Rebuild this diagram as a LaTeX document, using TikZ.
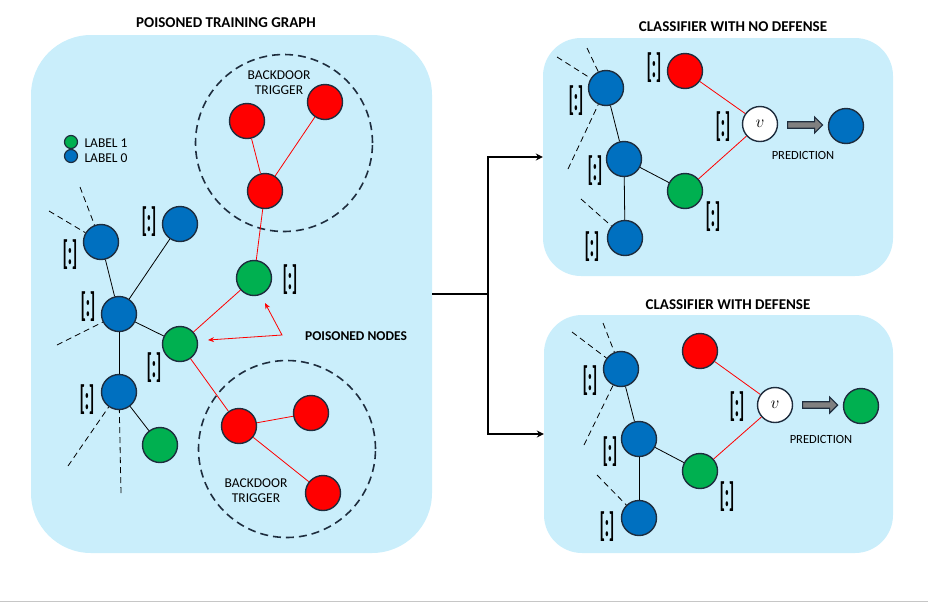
\documentclass[tikz,border=0pt]{standalone}
\usepackage{amsmath}
\usepackage{fontspec}
\setmainfont{Carlito}
\usepackage{tikz}
\usetikzlibrary{arrows.meta,positioning,shapes.arrows}
\definecolor{sky}{RGB}{202, 238, 251}
\definecolor{nodeblue}{RGB}{0, 112, 192}
\definecolor{nodegreen}{RGB}{0, 176, 80}
\definecolor{nodered}{RGB}{255, 0, 0}
\definecolor{rim}{RGB}{30, 45, 62}
\tikzstyle{panel} = [
    rectangle,
    fill=sky,
    draw=none,
    inner sep=0pt
]
\tikzstyle{vertex} = [
    circle,
    minimum size=35pt,
    inner sep=0pt,
    draw=rim,
    line width=1.4pt
]
\tikzstyle{bluev} = [vertex, fill=nodeblue]
\tikzstyle{greenv} = [vertex, fill=nodegreen]
\tikzstyle{redv} = [vertex, fill=nodered]
\tikzstyle{target} = [vertex, fill=white, font=\fontsize{18}{18}\selectfont]
\tikzstyle{dot} = [circle, minimum size=13pt, inner sep=0pt, draw=rim, line width=1.2pt]
\tikzstyle{edge} = [line width=0.8pt, draw=black]
\tikzstyle{redge} = [line width=0.8pt, draw=nodered]
\tikzstyle{stub} = [line width=0.8pt, dashed, dash pattern=on 6pt off 4pt]
\tikzstyle{trigger} = [
    circle,
    minimum size=177pt,
    draw=rim,
    line width=1.6pt,
    dash pattern=on 8pt off 5pt
]
\tikzstyle{title} = [font=\bfseries\fontsize{15}{17}\selectfont]
\tikzstyle{small} = [font=\fontsize{13.5}{15}\selectfont, align=center]
\tikzstyle{feat} = [inner sep=0pt]
\tikzstyle{link} = [line width=2.2pt, draw=black]
\tikzstyle{predarrow} = [
    single arrow,
    fill=gray,
    draw=rim,
    line width=1.2pt,
    minimum height=35pt,
    minimum width=16pt,
    inner sep=2.5pt,
    single arrow head extend=4.5pt
]
\newcommand{\featvec}{\scalebox{1}[2]{\fontsize{17}{17}\selectfont\bfseries[\kern-0.5pt:\kern-0.5pt]}}

\begin{document}
\begin{tikzpicture}[x=1pt, y=-1pt]
    \useasboundingbox (0,0) rectangle (928,603);

    % Panels
    \node[panel, rounded corners=60pt, minimum width=401pt, minimum height=518pt] (train) at (231.5,294) {};
    \node[panel, rounded corners=38pt, minimum width=350pt, minimum height=238pt] (nodef) at (718,157) {};
    \node[panel, rounded corners=38pt, minimum width=349pt, minimum height=238pt] (def) at (718.5,434) {};
    \node[title] at (226,23) {POISONED TRAINING GRAPH};
    \node[title] at (733,27) {CLASSIFIER WITH NO DEFENSE};
    \node[title] at (728,305) {CLASSIFIER WITH DEFENSE};

    % Connector
    \draw[link] (train.east) -- ++(56,0) coordinate (split);
    \draw[link, -{Stealth[length=7pt,width=7pt]}] (split) |- (nodef.west);
    \draw[link, -{Stealth[length=7pt,width=7pt]}] (split) |- (def.west);

    % Legend
    \node[dot, fill=nodegreen] (lg) at (71,142) {};
    \node[dot, fill=nodeblue] (lb) at (71,156) {};
    \node[small, anchor=west] at (81,143) {LABEL 1};
    \node[small, anchor=west] at (81,158) {LABEL 0};

    % Backdoor triggers
    \node[trigger] (trigup) at (284,143) {};
    \node[trigger] (trigdown) at (287,449) {};
    \node[small] at (279,83) {BACKDOOR\\TRIGGER};
    \node[small] at (256,491) {BACKDOOR\\TRIGGER};

    % Training graph
    \node[redv] (t1) at (247,121) {};
    \node[redv] (t2) at (325,102) {};
    \node[redv] (t3) at (265,191) {};
    \node[greenv] (g1) at (254,278) {};
    \node[greenv] (g2) at (180,344) {};
    \node[bluev] (b1) at (101,242) {};
    \node[bluev] (b2) at (180,224) {};
    \node[bluev] (b3) at (119,314) {};
    \node[bluev] (b4) at (119,392) {};
    \node[greenv] (g3) at (160,445) {};
    \node[redv] (r1) at (239,426) {};
    \node[redv] (r2) at (311,413) {};
    \node[redv] (r3) at (323,493) {};

    \draw[edge] (b1) -- (b3);
    \draw[edge] (b2) -- (b3);
    \draw[edge] (b3) -- (g2);
    \draw[edge] (b3) -- (b4);
    \draw[edge] (b4) -- (g3);
    \draw[redge] (t1) -- (t3);
    \draw[redge] (t2) -- (t3);
    \draw[redge] (t3) -- (g1);
    \draw[redge] (g1) -- (g2);
    \draw[redge] (g2) -- (r1);
    \draw[redge] (r1) -- (r2);
    \draw[redge] (r1) -- (r3);

    \foreach \x/\y/\n in {80/187/b1, 49/211/b1, 57/345/b3, 68/466/b4, 121/493/b4} {
        \coordinate (s) at (\x,\y);
        \draw[stub] (s) -- (\n);
    }

    \foreach \x/\y in {290/280, 149/222, 70/255, 88/307, 154/368, 87/400} {
        \node[feat] at (\x,\y) {\featvec};
    }

    % Poisoned nodes
    \node[font=\bfseries\fontsize{13.5}{14}\selectfont] (poison) at (356,336) {POISONED NODES};
    \coordinate (bend) at (282,335);
    \coordinate (tipup) at (265,303);
    \coordinate (tipleft) at (208,340);
    \draw[redge, {Stealth[length=6pt,width=5pt]}-{Stealth[length=6pt,width=5pt]}] (tipup) -- (bend) -- (tipleft);

    % Classifier with no defense
    \node[bluev] (n1) at (606,88) {};
    \node[bluev] (n2) at (624,159) {};
    \node[bluev] (n3) at (625,238) {};
    \node[greenv] (ng) at (685,191) {};
    \node[redv] (nr) at (685,71) {};
    \node[target] (nv) at (760,124) {$v$};
    \node[bluev] (nout) at (846,126) {};
    \node[predarrow] (narrow) at (803.5,125) {};
    \node[small, font=\fontsize{12.5}{13}\selectfont] at (803,155) {PREDICTION};

    \draw[edge] (n1) -- (n2);
    \draw[edge] (n2) -- (n3);
    \draw[edge] (n2) -- (ng);
    \draw[redge] (ng) -- (nv);
    \draw[redge] (nr) -- (nv);

    \foreach \x/\y/\n in {557/57/n1, 587/48/n1, 568/169/n1, 581/199/n3} {
        \coordinate (s) at (\x,\y);
        \draw[stub] (s) -- (\n);
    }

    \foreach \x/\y in {576/101, 595/171, 592/247, 713/217, 654/68, 723/127} {
        \node[feat] at (\x,\y) {\featvec};
    }

    % Classifier with defense
    \node[bluev] (d1) at (621,369) {};
    \node[bluev] (d2) at (639,439) {};
    \node[bluev] (d3) at (639,518) {};
    \node[greenv] (dg) at (700,471) {};
    \node[redv] (dr) at (700,351) {};
    \node[target] (dv) at (775,405) {$v$};
    \node[greenv] (dout) at (861,406) {};
    \node[predarrow] (darrow) at (818.5,405) {};
    \node[small, font=\fontsize{12.5}{13}\selectfont] at (821,439) {PREDICTION};

    \draw[edge] (d1) -- (d2);
    \draw[edge] (d2) -- (d3);
    \draw[edge] (d2) -- (dg);
    \draw[redge] (dg) -- (dv);
    \draw[redge] (dr) -- (dv);

    \foreach \x/\y/\n in {572/332/d1, 603/323/d1, 584/445/d1, 597/475/d3} {
        \coordinate (s) at (\x,\y);
        \draw[stub] (s) -- (\n);
    }

    \foreach \x/\y in {590/381, 610/452, 607/527, 727/497, 737/407} {
        \node[feat] at (\x,\y) {\featvec};
    }

    % Page edge
    \draw[gray!45, line width=1pt] (0,601.5) -- (928,601.5);
\end{tikzpicture}
\end{document}
